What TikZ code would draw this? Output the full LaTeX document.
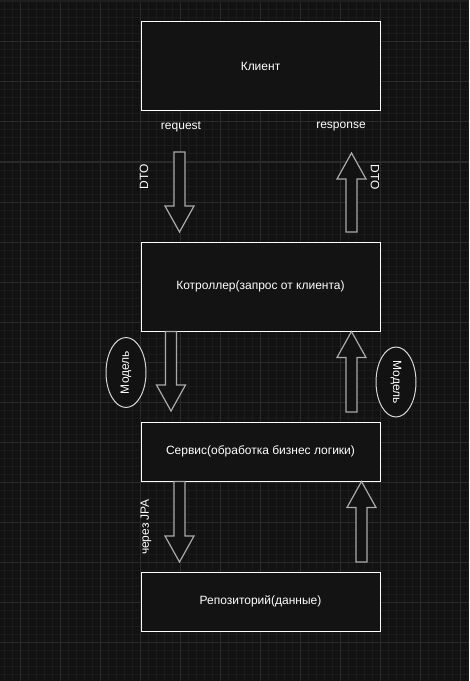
\documentclass[tikz,border=0pt]{standalone}
\usepackage{fontspec}
\setmainfont{Liberation Sans}
\usetikzlibrary{calc,shapes.geometric}

\definecolor{canvas}{RGB}{18,18,18}
\definecolor{boxfill}{RGB}{19,19,19}
\definecolor{topstrip}{RGB}{30,30,30}
\definecolor{gridminor}{RGB}{27,27,27}
\definecolor{gridmajor}{RGB}{42,42,42}
\definecolor{arrowline}{RGB}{170,170,170}
\definecolor{ovalline}{RGB}{215,215,215}

\tikzset{
  every label text/.style={text=white, font=\fontsize{9}{11}\selectfont, inner sep=0pt},
  every box/.style={draw=white, line width=0.75pt, fill=boxfill, every label text,
    minimum width=179.25pt},
  model oval/.style={ellipse, draw=ovalline, line width=0.75pt, fill=canvas, every label text,
    minimum width=52.5pt, minimum height=30pt},
  flex arrow/.style={draw=arrowline, line width=0.9pt, fill=canvas, line join=miter},
}

% wide hollow arrow: #1 start of shaft, #2 tip, #3 signed head length
\newcommand\flexarrow[3]{%
  \draw [flex arrow] ($(#1)+(-5.5,0)$) -- ($(#2)+(-5.5,#3)$) -- ($(#2)+(-14.5,#3)$)
    -- (#2) -- ($(#2)+(14.5,#3)$) -- ($(#2)+(5.5,#3)$) -- ($(#1)+(5.5,0)$) -- cycle;}

\begin{document}
\begin{tikzpicture}[x=0.75pt, y=-0.75pt]

\fill [canvas] (0,0) rectangle (469,681);
\useasboundingbox (0,0) rectangle (469,681);
\fill [topstrip] (0,0) rectangle (469,2);

\foreach \gx in {4,12,...,468}
  \draw [gridminor, line width=0.75pt] (\gx,2) -- (\gx,681);
\foreach \gy in {10,18,...,680}
  \draw [gridminor, line width=0.75pt] (0,\gy) -- (469,\gy);
\foreach \gx in {20,60,...,460}
  \draw [gridmajor, line width=0.75pt] (\gx,2) -- (\gx,681);
\foreach \gy in {42,82,...,642}
  \draw [gridmajor, line width=0.75pt] (0,\gy) -- (469,\gy);

\foreach \n/\y/\h/\t in {client/66.5/89/Клиент,
    ctrl/286.5/89/Котроллер(запрос от клиента),
    service/451.5/59/Сервис(обработка бизнес логики),
    repo/601.5/59/Репозиторий(данные)}
  \node [every box, minimum height=\h*0.75pt] (\n) at (260.5,\y) {\t};

\coordinate (req-start) at (179.5,152);
\coordinate (req-tip) at (179.5,232);
\coordinate (resp-start) at (351.5,232);
\coordinate (resp-tip) at (351.5,153);
\coordinate (model-down-start) at (171,0 |- ctrl.south);
\coordinate (model-down-tip) at (171,411);
\coordinate (model-up-start) at (351.5,412);
\coordinate (model-up-tip) at (351.5,0 |- ctrl.south);
\coordinate (jpa-down-start) at (179.5,0 |- service.south);
\coordinate (jpa-down-tip) at (179.5,562);
\coordinate (jpa-up-start) at (361.5,562);
\coordinate (jpa-up-tip) at (361.5,0 |- service.south);

\foreach \a/\h in {req/-26, resp/26, model-down/-26, model-up/26, jpa-down/-26, jpa-up/26}
  \flexarrow{\a-start}{\a-tip}{\h};

\node [every label text] (request) at (181,127) {request};
\node [every label text] (response) at (341,127) {response};
\node [every label text, rotate=90] (dto-left) at (144,177) {DTO};
\node [every label text, rotate=-90] (dto-right) at (375,177) {DTO};
\node [every label text, rotate=90] (via-jpa) at (146,527) {через JPA};

\node [model oval, rotate=90] (model-left) at (126,372.5) {Модель};
\node [model oval, rotate=-90] (model-right) at (396,382) {Модель};

\end{tikzpicture}
\end{document}
